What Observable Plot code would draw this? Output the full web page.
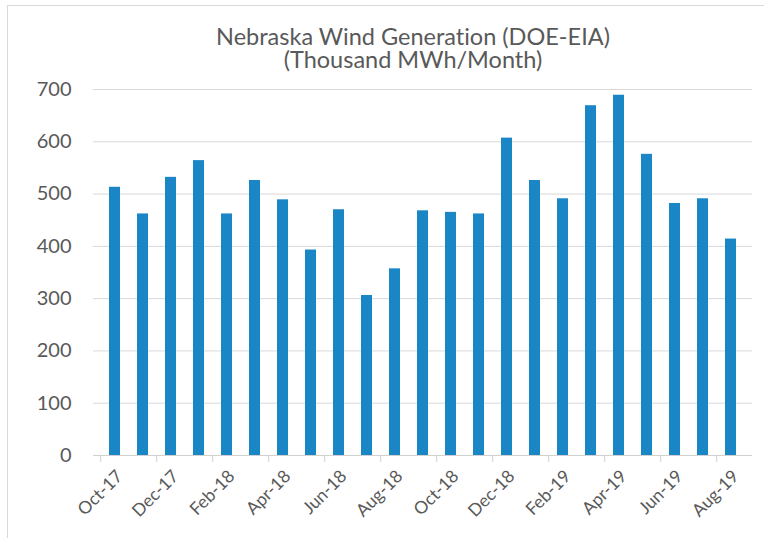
<!DOCTYPE html>
<html><head><meta charset="utf-8">
<script src="https://cdn.jsdelivr.net/npm/d3@7"></script>
<script src="https://cdn.jsdelivr.net/npm/@observablehq/plot@0.6"></script>
<style>
body{margin:0;background:#fff;}
#wrap{position:relative;width:764px;height:538px;overflow:hidden;background:#fff;}
#frame{position:absolute;left:7px;top:5px;width:770px;height:560px;border:1px solid #d9d9d9;}
.title{position:absolute;left:31px;width:764px;height:22px;text-align:center;font-family:Lato;font-size:23.5px;line-height:22px;color:#595959;font-variant-ligatures:none;white-space:nowrap;}
#wrap svg{position:absolute;left:0;top:0;}
</style></head>
<body><div id="wrap"><div id="frame"></div>
<div class="title" style="top:24.5px">Nebraska Wind Generation (DOE-EIA)</div>
<div class="title" style="top:48px">(Thousand MWh/Month)</div>
</div>
<script>
const months = ["Oct-17","Nov-17","Dec-17","Jan-18","Feb-18","Mar-18","Apr-18","May-18","Jun-18","Jul-18","Aug-18","Sep-18","Oct-18","Nov-18","Dec-18","Jan-19","Feb-19","Mar-19","Apr-19","May-19","Jun-19","Jul-19","Aug-19"];
const generation = [513,462,532,564,462,526,489,393,470,306,357,468,465,462,607,526,491,669,689,576,482,491,414];
const tickMonths = months.filter((d, i) => i % 2 === 0);
const yTicks = [0,100,200,300,400,500,600,700];
const data = months.map((m, i) => ({month: m, value: generation[i]}));

const chart = Plot.plot({
  width: 764, height: 538,
  marginTop: 89, marginBottom: 83, marginLeft: 93, marginRight: 12,
  style: {fontFamily: "Lato", color: "#595959", background: "transparent", overflow: "visible"},
  x: {type: "band", domain: months, paddingInner: 0.62, paddingOuter: 0.31, label: null},
  y: {domain: [0, 700], label: null},
  marks: [
    Plot.gridY(yTicks, {stroke: "#d9d9d9", strokeOpacity: 1}),
    Plot.barY(data, {x: "month", y: "value", fill: "#1B86C6"}),
    Plot.ruleY([0], {stroke: "#d0d0d0"}),
    Plot.axisY(yTicks, {tickSize: 0, tickPadding: 22, fontSize: 20, fill: "#595959"}),
    Plot.axisX(tickMonths, {tickSize: 7, stroke: "#d0d0d0", dx: -14.33, tickFormat: () => ""}),
    Plot.axisX(tickMonths, {tickSize: 0, tickPadding: 13, rotate: -45, textAnchor: "end", fontSize: 17.5, fill: "#595959"})
  ]
});
document.getElementById("wrap").appendChild(chart);
</script>
</body></html>
